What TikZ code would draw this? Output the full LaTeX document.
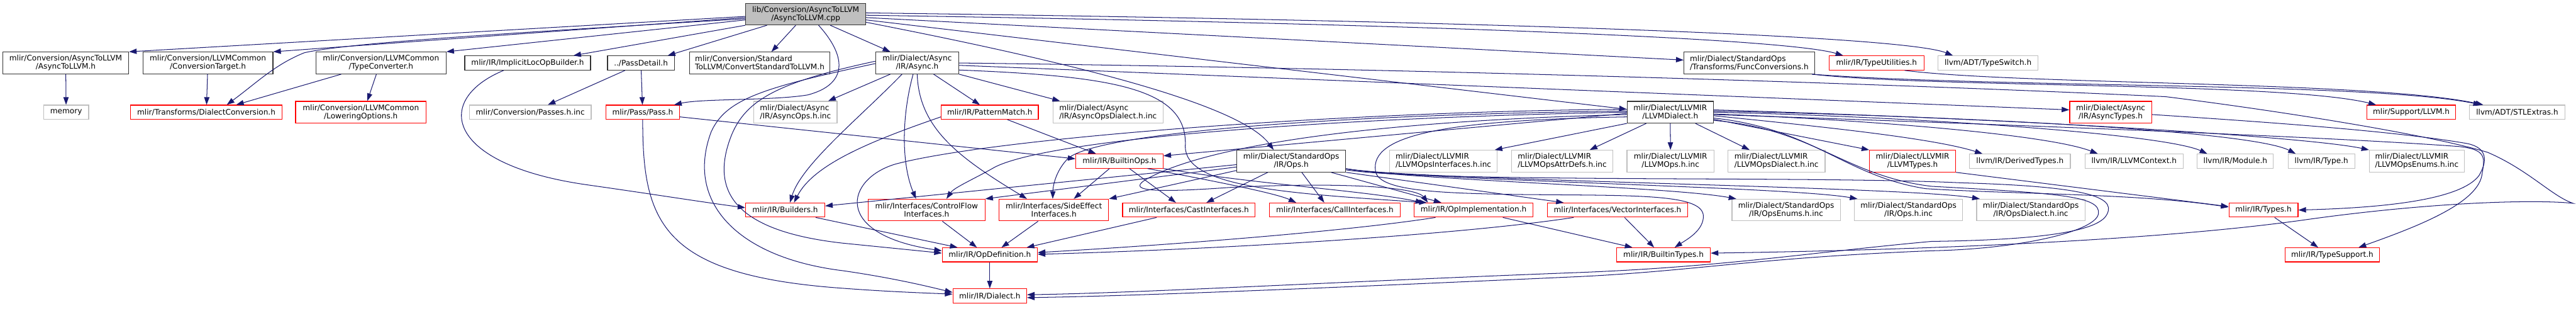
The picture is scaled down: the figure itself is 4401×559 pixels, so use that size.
\documentclass[tikz,border=0pt]{standalone}
\usepackage{fontspec}
\setmainfont{DejaVu Sans}
\usetikzlibrary{arrows.meta}
\definecolor{midnight}{HTML}{191970}
\definecolor{docline}{HTML}{333333}
\definecolor{truncline}{HTML}{FF0000}
\definecolor{extline}{HTML}{BFBFBF}
\definecolor{rootfill}{HTML}{BFBFBF}
\tikzset{
  box/.style={draw, line width=1.3pt, fill=white, inner sep=0pt, align=center,
    font=\fontsize{13}{14}\selectfont, minimum height=37pt},
  one/.style={minimum height=24pt},
  w/.style={minimum width=#1pt},
  doc/.style={box, draw=docline},
  trunc/.style={box, draw=truncline},
  ext/.style={box, draw=extline},
  rootnode/.style={box, draw=docline, fill=rootfill},
  inc/.style={draw=midnight, line width=1.1pt, -{Triangle[length=13pt,width=9pt]}},
}

\begin{document}
\begin{tikzpicture}[x=1pt, y=-1pt]
    \useasboundingbox (0,0) rectangle (4401,559);
    % files
    \node[rootnode, w=205] (root) at (1376.5,24) {lib/Conversion/AsyncToLLVM\\/AsyncToLLVM.cpp};

    \node[doc, w=215] (a2lh) at (112.3,107.5) {mlir/Conversion/AsyncToLLVM\\/AsyncToLLVM.h};
    \node[doc, w=222] (convtarget) at (355.2,107.5) {mlir/Conversion/LLVMCommon\\/ConversionTarget.h};
    \node[doc, w=222] (typeconv) at (651,107.5) {mlir/Conversion/LLVMCommon\\/TypeConverter.h};
    \node[doc, one, w=215] (implicitloc) at (901.5,107.5) {mlir/IR/ImplicitLocOpBuilder.h};
    \node[doc, one, w=114] (passdetail) at (1095,107.5) {../PassDetail.h};
    \node[doc, w=240, align=left] (convstd) at (1298,107.5) {mlir/Conversion/Standard\\ToLLVM/ConvertStandardToLLVM.h};
    \node[doc, w=142] (async) at (1567,107.5) {mlir/Dialect/Async\\/IR/Async.h};
    \node[doc, w=223, align=left] (funcconv) at (2988.5,107.5) {mlir/Dialect/StandardOps\\/Transforms/FuncConversions.h};
    \node[trunc, one, w=162] (typeutil) at (3206,107.5) {mlir/IR/TypeUtilities.h};
    \node[ext, one, w=171] (typeswitch) at (3396.5,107.5) {llvm/ADT/TypeSwitch.h};

    \node[ext, one, w=77] (memory) at (113,191.5) {memory};
    \node[trunc, one, w=259] (dialectconv) at (352.5,191.5) {mlir/Transforms/DialectConversion.h};
    \node[trunc, w=223] (lowering) at (616.5,191.5) {mlir/Conversion/LLVMCommon\\/LoweringOptions.h};
    \node[ext, one, w=208] (passesinc) at (906,191.5) {mlir/Conversion/Passes.h.inc};
    \node[trunc, one, w=126] (pass) at (1098,191.5) {mlir/Pass/Pass.h};
    \node[ext, w=142, align=left] (asyncopsinc) at (1359,191.5) {mlir/Dialect/Async\\/IR/AsyncOps.h.inc};
    \node[trunc, one, w=166] (patternmatch) at (1691,191.5) {mlir/IR/PatternMatch.h};
    \node[ext, w=188, align=left] (asyncopsdialectinc) at (1893,191.5) {mlir/Dialect/Async\\/IR/AsyncOpsDialect.h.inc};
    \node[doc, w=147] (llvmdialect) at (2853.5,191.5) {mlir/Dialect/LLVMIR\\/LLVMDialect.h};
    \node[trunc, w=140] (asynctypes) at (3606,191.5) {mlir/Dialect/Async\\/IR/AsyncTypes.h};
    \node[trunc, one, w=151] (supportllvm) at (4119.5,191.5) {mlir/Support/LLVM.h};
    \node[ext, one, w=163] (stlextras) at (4300.5,191.5) {llvm/ADT/STLExtras.h};

    \node[trunc, one, w=149] (builtinops) at (1912.5,275) {mlir/IR/BuiltinOps.h};
    \node[doc, w=186] (stdops) at (2206,275) {mlir/Dialect/StandardOps\\/IR/Ops.h};
    \node[ext, w=184, align=left] (llvmopsinterfacesinc) at (2466,275) {mlir/Dialect/LLVMIR\\/LLVMOpsInterfaces.h.inc};
    \node[ext, w=173, align=left] (llvmopsattrdefsinc) at (2669,275) {mlir/Dialect/LLVMIR\\/LLVMOpsAttrDefs.h.inc};
    \node[ext, w=149] (llvmopsinc) at (2854,275) {mlir/Dialect/LLVMIR\\/LLVMOps.h.inc};
    \node[ext, w=166, align=left] (llvmopsdialectinc) at (3035,275) {mlir/Dialect/LLVMIR\\/LLVMOpsDialect.h.inc};
    \node[trunc, w=147] (llvmtypes) at (3267.5,275) {mlir/Dialect/LLVMIR\\/LLVMTypes.h};
    \node[ext, one, w=172] (derivedtypes) at (3451,275) {llvm/IR/DerivedTypes.h};
    \node[ext, one, w=168] (llvmcontext) at (3646,275) {llvm/IR/LLVMContext.h};
    \node[ext, one, w=130] (module) at (3819,275) {llvm/IR/Module.h};
    \node[ext, one, w=114] (type) at (3966,275) {llvm/IR/Type.h};
    \node[ext, w=162, align=left] (llvmopsenumsinc) at (4129,275) {mlir/Dialect/LLVMIR\\/LLVMOpsEnums.h.inc};

    \node[trunc, one, w=135] (builders) at (1341.5,358.5) {mlir/IR/Builders.h};
    \node[trunc, w=199.5] (controlflow) at (1583,358.5) {mlir/Interfaces/ControlFlow\\Interfaces.h};
    \node[trunc, w=187] (sideeffect) at (1800.5,358.5) {mlir/Interfaces/SideEffect\\Interfaces.h};
    \node[trunc, one, w=226] (castif) at (2031,358.5) {mlir/Interfaces/CastInterfaces.h};
    \node[trunc, one, w=223] (callif) at (2280.5,358.5) {mlir/Interfaces/CallInterfaces.h};
    \node[trunc, one, w=203] (opimpl) at (2517.5,358.5) {mlir/IR/OpImplementation.h};
    \node[trunc, one, w=239] (vectorif) at (2763.5,358.5) {mlir/Interfaces/VectorInterfaces.h};
    \node[ext, w=185] (opsenumsinc) at (3051.5,358.5) {mlir/Dialect/StandardOps\\/IR/OpsEnums.h.inc};
    \node[ext, w=185] (opsinc) at (3260.5,358.5) {mlir/Dialect/StandardOps\\/IR/Ops.h.inc};
    \node[ext, w=185] (opsdialectinc) at (3469.5,358.5) {mlir/Dialect/StandardOps\\/IR/OpsDialect.h.inc};
    \node[trunc, one, w=118] (types) at (3867,358.5) {mlir/IR/Types.h};

    \node[trunc, one, w=162.5] (opdef) at (1691,435) {mlir/IR/OpDefinition.h};
    \node[trunc, one, w=160] (builtintypes) at (2842,435) {mlir/IR/BuiltinTypes.h};
    \node[trunc, one, w=161] (typesupport) at (3984.5,435) {mlir/IR/TypeSupport.h};
    \node[trunc, one, w=126] (dialect) at (1691,505) {mlir/IR/Dialect.h};

    % includes of the source file
    \draw[inc] ([yshift=-4pt]root.west) -- (a2lh.north east);
    \draw[inc] ([yshift=-6pt]root.west) -- (convtarget.north east);
    \draw[inc] ([yshift=-8pt]root.west) .. controls (900,55) and (600,72) .. (520,90) .. controls (470,110) and (440,140) .. ([xshift=35pt]dialectconv.north);
    \draw[inc] ([yshift=-10pt]root.west) -- (typeconv.north east);
    \draw[inc] (root.south west) -- ([xshift=-30pt]implicitloc.north east);
    \draw[inc] ([xshift=37pt]root.south west) -- ([xshift=-12pt]passdetail.north east);
    \draw[inc] ([xshift=-17pt]root.south) -- ([xshift=20pt]convstd.north);
    \draw[inc] ([xshift=22pt]root.south) .. controls (1450,100) and (1445,145) .. (1380,162) .. controls (1320,172) and (1200,168) .. ([xshift=-10pt]pass.north east);
    \draw[inc] ([xshift=42pt]root.south) -- ([xshift=-46pt]async.north);
    \draw[inc] ([yshift=-10pt]root.east) -- ([yshift=5pt]llvmdialect.west);
    \draw[inc] ([yshift=-14pt]root.east) .. controls (1850,110) and (2120,180) .. ([xshift=-30pt]stdops.north);
    \draw[inc] ([yshift=-6pt]root.east) -- ([yshift=5pt]funcconv.west);
    \draw[inc] ([yshift=-2pt]root.east) .. controls (2400,40) and (3050,65) .. ([xshift=-57pt]typeutil.north);
    \draw[inc] ([yshift=2pt]root.east) .. controls (2500,35) and (3250,60) .. ([xshift=-60pt]typeswitch.north);

    % conversion headers
    \draw[inc] (a2lh) -- (memory);
    \draw[inc] (convtarget) -- (dialectconv);
    \draw[inc] ([xshift=-68pt]typeconv.south) -- ([xshift=51pt]dialectconv.north);
    \draw[inc] ([xshift=-8pt]typeconv.south) -- ([xshift=11pt]lowering.north);
    \draw[inc] ([xshift=-41pt]implicitloc.south) .. controls (740,170) and (760,280) .. (1000,315) .. controls (1120,332) and (1200,345) .. ([yshift=4pt]builders.west);
    \draw[inc] ([xshift=-27pt]passdetail.south) -- ([xshift=30pt]passesinc.north);
    \draw[inc] (passdetail) -- (pass);
    \draw[inc] ([yshift=-8pt]pass.east) -- ([yshift=4pt]builtinops.west);
    \draw[inc] (pass.south) .. controls (1098,380) and (1130,470) .. (1440,492) .. controls (1520,498) and (1580,500) .. ([yshift=3pt]dialect.west);

    % async dialect
    \draw[inc] ([xshift=-46pt]async.south) -- ([xshift=56pt]asyncopsinc.north);
    \draw[inc] ([xshift=-26pt]async.south) .. controls (1470,200) and (1370,280) .. ([xshift=8pt]builders.north);
    \draw[inc] ([xshift=28pt]async.south) -- ([xshift=-17pt]patternmatch.north);
    \draw[inc] (async.south east) -- ([xshift=-82pt]asyncopsdialectinc.north);
    \draw[inc] ([xshift=-7pt]async.south) .. controls (1540,200) and (1540,280) .. ([xshift=-18pt]controlflow.north);
    \draw[inc] (async.south) .. controls (1570,220) and (1640,270) .. ([xshift=-46pt]sideeffect.north);
    \draw[inc] ([yshift=3pt]async.west) .. controls (1330,140) and (1275,170) .. (1250,230) .. controls (1210,330) and (1260,395) .. (1440,415) .. controls (1520,423) and (1570,428) .. ([yshift=3pt]opdef.west);
    \draw[inc] ([yshift=-1pt]async.west) .. controls (1300,150) and (1240,170) .. (1215,225) .. controls (1170,345) and (1260,440) .. (1440,462) .. controls (1530,475) and (1590,490) .. ([yshift=6pt]dialect.west);
    \draw[inc] ([yshift=-4pt]async.east) -- ([yshift=4pt]asynctypes.west);
    \draw[inc] (async.east) .. controls (2500,118) and (3300,146) .. (3700,165) .. controls (3900,190) and (4150,230) .. (4250,260) .. controls (4320,290) and (4360,335) .. (4396,347) .. controls (4330,340) and (4150,345) .. (3932,376) .. controls (3650,415) and (3200,428) .. ([yshift=3pt]builtintypes.east);
    \draw[inc] ([yshift=-12pt]async.east) .. controls (1900,130) and (2030,150) .. (2025,250) .. controls (2025,320) and (2200,330) .. ([xshift=-80pt]opimpl.north);
    \draw[inc] ([xshift=30pt]patternmatch.south) -- ([xshift=-40pt]builtinops.north);
    \draw[inc] ([yshift=-8pt]patternmatch.west) .. controls (1490,240) and (1390,280) .. ([xshift=15pt]builders.north);

    % builtin and interfaces
    \draw[inc] ([xshift=-17pt]builtinops.south) -- ([xshift=34pt]sideeffect.north);
    \draw[inc] ([xshift=17pt]builtinops.south) -- ([xshift=-22pt]castif.north);
    \draw[inc] ([xshift=48pt]builtinops.south) .. controls (2080,310) and (2180,330) .. ([xshift=-66pt]callif.north);
    \draw[inc] (builtinops.south east) .. controls (2150,315) and (2330,325) .. ([xshift=-86pt]opimpl.north);
    \draw[inc] ([xshift=27pt]controlflow.south) -- ([xshift=-22pt]opdef.north);
    \draw[inc] ([xshift=-27pt]sideeffect.south) -- ([xshift=20pt]opdef.north);
    \draw[inc] ([xshift=-55pt]castif.south) -- ([xshift=63pt]opdef.north);
    \draw[inc] ([xshift=52pt]builders.south) -- ([xshift=-55pt]opdef.north);
    \draw[inc] (opdef) -- (dialect);
    \draw[inc] ([xshift=-65pt]opimpl.south) .. controls (2300,395) and (2000,418) .. ([yshift=4pt]opdef.east);
    \draw[inc] ([xshift=-75pt]vectorif.south) .. controls (2500,400) and (2100,425) .. ([yshift=1pt]opdef.east);
    \draw[inc] ([xshift=50pt]opimpl.south) -- ([xshift=-53pt]builtintypes.north);
    \draw[inc] ([xshift=12pt]vectorif.south) -- ([xshift=-16pt]builtintypes.north);

    % standard ops
    \draw[inc] ([yshift=-6pt]stdops.west) -- ([yshift=7pt]builders.east);
    \draw[inc] ([yshift=-10pt]stdops.west) -- (controlflow.north east);
    \draw[inc] ([yshift=-16pt]stdops.west) -- (sideeffect.north east);
    \draw[inc] ([xshift=-40pt]stdops.south) -- ([xshift=30pt]castif.north);
    \draw[inc] ([xshift=18pt]stdops.south) -- ([xshift=-18pt]callif.north);
    \draw[inc] ([xshift=68pt]stdops.south) -- ([xshift=-55pt]opimpl.north);
    \draw[inc] (stdops.south east) -- ([xshift=-92pt]vectorif.north);
    \draw[inc] ([yshift=-13pt]stdops.east) .. controls (2420,308) and (2850,318) .. ([xshift=8pt]opsenumsinc.north west);
    \draw[inc] ([yshift=-13pt]stdops.east) .. controls (2420,308) and (3050,318) .. ([xshift=6pt]opsinc.north west);
    \draw[inc] ([yshift=-13pt]stdops.east) .. controls (2420,308) and (3250,318) .. ([xshift=6pt]opsdialectinc.north west);
    \draw[inc] ([yshift=-15pt]stdops.east) .. controls (2450,312) and (3100,300) .. (3350,312) .. controls (3560,318) and (3615,335) .. (3600,365) .. controls (3585,400) and (3450,410) .. (3300,412) .. controls (3100,430) and (2950,455) .. (2700,465) .. controls (2300,480) and (1950,500) .. ([yshift=2pt]dialect.east);

    % llvm dialect
    \draw[inc] ([yshift=-2pt]llvmdialect.west) -- ([yshift=9pt]builtinops.east);
    \draw[inc] (llvmdialect.west) .. controls (2300,200) and (1800,235) .. (1700,285) .. controls (1665,305) and (1630,320) .. ([xshift=34pt]controlflow.north);
    \draw[inc] ([yshift=2pt]llvmdialect.west) .. controls (2300,195) and (1880,225) .. (1825,270) .. controls (1805,290) and (1799,315) .. ([xshift=-2pt]sideeffect.north);
    \draw[inc] ([yshift=5pt]llvmdialect.west) .. controls (2300,190) and (1700,235) .. (1530,280) .. controls (1445,305) and (1420,400) .. ([yshift=7pt]opdef.west);
    \draw[inc] ([yshift=-4pt]llvmdialect.west) .. controls (2400,205) and (2080,240) .. (1960,305) .. controls (1925,325) and (1960,330) .. (2100,320) .. controls (2300,310) and (2420,320) .. ([xshift=-78pt]opimpl.north);
    \draw[inc] ([yshift=-8pt]llvmdialect.west) .. controls (2470,205) and (2340,230) .. (2350,292) .. controls (2355,325) and (2450,330) .. (2600,332) .. controls (2800,334) and (2915,330) .. (2910,372) .. controls (2908,395) and (2880,410) .. ([xshift=19pt]builtintypes.north);
    \draw[inc] (llvmdialect.south west) -- ([xshift=-5pt]llvmopsinterfacesinc.north east);
    \draw[inc] ([xshift=-41pt]llvmdialect.south) -- ([xshift=47pt]llvmopsattrdefsinc.north);
    \draw[inc] (llvmdialect) -- (llvmopsinc);
    \draw[inc] ([xshift=43pt]llvmdialect.south) -- ([xshift=-46pt]llvmopsdialectinc.north);
    \draw[inc] ([yshift=-12pt]llvmdialect.east) -- (llvmtypes.north west);
    \draw[inc] ([yshift=-6pt]llvmdialect.east) .. controls (3100,215) and (3300,235) .. ([xshift=-64pt]derivedtypes.north);
    \draw[inc] ([yshift=-3pt]llvmdialect.east) .. controls (3200,205) and (3500,230) .. ([xshift=-62pt]llvmcontext.north);
    \draw[inc] (llvmdialect.east) .. controls (3300,200) and (3700,230) .. ([xshift=-48pt]module.north);
    \draw[inc] ([yshift=2pt]llvmdialect.east) .. controls (3400,200) and (3850,225) .. ([xshift=-44pt]type.north);
    \draw[inc] ([yshift=4pt]llvmdialect.east) .. controls (3500,205) and (3950,235) .. (llvmopsenumsinc.north west);
    \draw[inc] ([yshift=-4pt]llvmdialect.east) .. controls (3500,215) and (4000,235) .. (4200,250) .. controls (4250,255) and (4245,270) .. (4240,300) .. controls (4230,350) and (4120,390) .. ([xshift=45pt]typesupport.north);
    \draw[inc] ([yshift=-10pt]llvmdialect.east) .. controls (3100,220) and (3150,300) .. (3290,322) .. controls (3450,332) and (3650,330) .. ([yshift=5pt]types.west);
    \draw[inc] ([yshift=-14pt]llvmdialect.east) .. controls (3100,220) and (3150,300) .. (3300,318) .. controls (3520,330) and (3590,335) .. (3585,365) .. controls (3580,395) and (3450,425) .. (3300,428) .. controls (3000,440) and (2900,462) .. (2700,472) .. controls (2300,490) and (1950,505) .. ([yshift=-3pt]dialect.east);

    % types
    \draw[inc] (llvmtypes.south east) -- ([yshift=6pt]types.west);
    \draw[inc] ([yshift=-4pt]asynctypes.east) .. controls (3900,210) and (4100,225) .. (4215,245) .. controls (4250,252) and (4250,275) .. (4235,300) .. controls (4200,345) and (4050,355) .. (types.east);
    \draw[inc] ([xshift=19pt]types.south) -- ([xshift=-24pt]typesupport.north);
    \draw[inc] ([xshift=-5pt]funcconv.south east) .. controls (3300,150) and (3900,140) .. ([xshift=-60pt]supportllvm.north);
    \draw[inc] ([xshift=-5pt]funcconv.south east) .. controls (3400,150) and (4050,140) .. ([xshift=-62pt]stlextras.north);
    \draw[inc] ([xshift=48pt]typeutil.south) .. controls (3450,145) and (4050,138) .. ([xshift=-58pt]stlextras.north);
\end{tikzpicture}
\end{document}
